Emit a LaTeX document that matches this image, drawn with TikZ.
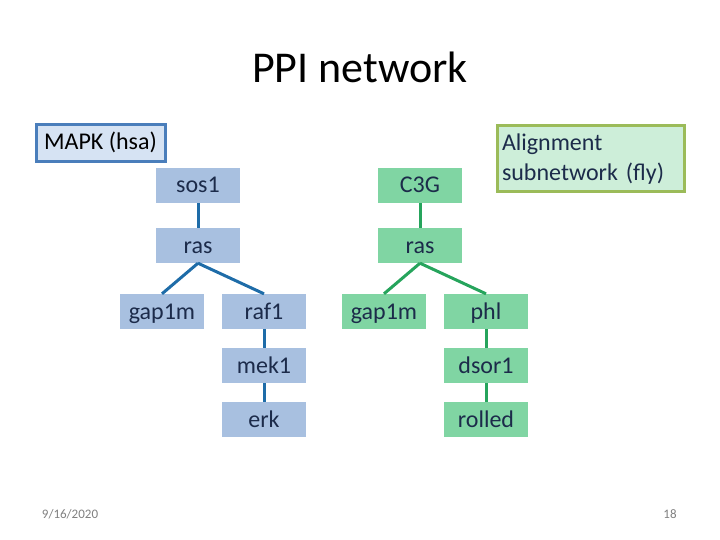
\documentclass[tikz,border=0pt]{standalone}
\usepackage{fontspec}
\setmainfont{Carlito}
\usetikzlibrary{positioning}
\definecolor{hsafill}{HTML}{A8C0E0}
\definecolor{hsaline}{HTML}{1E6CA8}
\definecolor{flyfill}{HTML}{80D5A3}
\definecolor{flyline}{HTML}{26A45C}
\definecolor{boxtext}{HTML}{1C2B4A}
\definecolor{mapkfill}{HTML}{D6E3F3}
\definecolor{mapkline}{HTML}{4A7EBB}
\definecolor{alnfill}{HTML}{CDEED9}
\definecolor{alnline}{HTML}{9BBB59}
\tikzset{
	protein/.style={minimum width=84pt, minimum height=35pt, inner sep=0pt,
		text height=18pt, text depth=3pt,
		text=boxtext, font=\fontsize{24}{28}\selectfont},
	hsa/.style={protein, fill=hsafill},
	fly/.style={protein, fill=flyfill},
	hsaedge/.style={draw=hsaline, line width=3pt},
	flyedge/.style={draw=flyline, line width=3pt},
}
\begin{document}
\begin{tikzpicture}[x=1pt,y=-1pt]
			\useasboundingbox (0,0) rectangle (720,540);

			\node[font=\fontsize{44}{52}\selectfont] (title) at (360,67){PPI network};

			% legend boxes
			\node[draw=mapkline, fill=mapkfill, line width=3pt, minimum width=129pt,
				minimum height=37pt, inner sep=2pt, text height=17pt, text depth=5pt,
				text=black, font=\fontsize{24}{28}\selectfont] (mapk) at (100.5,143.5){MAPK (hsa)};
			\node[draw=alnline, fill=alnfill, line width=3pt, minimum width=187pt,
				minimum height=66pt, inner sep=5pt, align=left, text width=177pt,
				text=boxtext, font=\fontsize{24}{30}\selectfont] (aln) at (590.5,159){Alignment\\subnetwork (fly)};

			% human pathway
			\node[hsa] (sosA) at (198,185.5){sos1};
			\node[hsa] (rasA) at (198,245.5){ras};
			\node[hsa] (gapA) at (162,311.5){gap1m};
			\node[hsa] (raf) at (264,311.5){raf1};
			\node[hsa] (mek) at (264,365.5){mek1};
			\node[hsa] (erk) at (264,419.5){erk};
			\draw[hsaedge] (sosA) -- (rasA);
			\draw[hsaedge] (rasA.south) -- (gapA.north);
			\draw[hsaedge] (rasA.south) -- (raf.north);
			\draw[hsaedge] (raf) -- (mek);
			\draw[hsaedge] (mek) -- (erk);

			% fly pathway
			\node[fly] (ctg) at (420,185.5){C3G};
			\node[fly] (rasB) at (420,245.5){ras};
			\node[fly] (gapB) at (384,311.5){gap1m};
			\node[fly] (phl) at (486,311.5){phl};
			\node[fly] (dsor) at (486,365.5){dsor1};
			\node[fly] (rolled) at (486,419.5){rolled};
			\draw[flyedge] (ctg) -- (rasB);
			\draw[flyedge] (rasB.south) -- (gapB.north);
			\draw[flyedge] (rasB.south) -- (phl.north);
			\draw[flyedge] (phl) -- (dsor);
			\draw[flyedge] (dsor) -- (rolled);

			\node[text=gray, font=\fontsize{13}{15}\selectfont] (date) at (70,514){9/16/2020};
			\node[text=gray, font=\fontsize{13}{15}\selectfont] (page) at (670,514){18};
		\end{tikzpicture}
\end{document}
